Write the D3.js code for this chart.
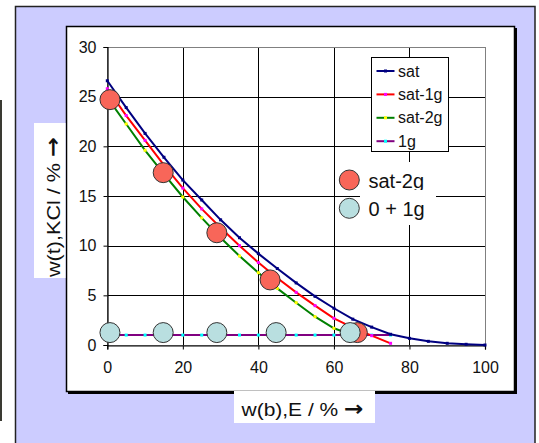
<!DOCTYPE html>
<html>
<head>
<meta charset="utf-8">
<script src="https://cdn.jsdelivr.net/npm/d3@7"></script>
<style>
  body { margin: 0; background: #ffffff; }
  svg { display: block; font-family: "Liberation Sans", Arial, sans-serif; }
</style>
</head>
<body>
<div id="chart"></div>
<script>
// ------- DATA -------
var xTicks = [0, 20, 40, 60, 80, 100];
var yTicks = [0, 5, 10, 15, 20, 25, 30];

var satX = [0, 5, 10, 15, 20, 25, 30, 35, 40, 45, 50, 55, 60, 65, 70, 75, 80, 85, 90, 95, 100];
var satY = [26.6, 23.9, 21.3, 18.9, 16.6, 14.6, 12.6, 10.8, 9.2, 7.7, 6.25, 4.9, 3.7, 2.6, 1.8, 1.08, 0.67, 0.37, 0.17, 0.07, 0];

var sat1gX = [0, 5, 10, 15, 20, 25, 30, 35, 40, 45, 50, 55, 60, 65, 70, 75];
var sat1gY = [25.8, 23.1, 20.6, 18.1, 15.8, 13.7, 11.8, 10.0, 8.3, 6.75, 5.3, 3.96, 2.69, 1.75, 0.94, 0.17];

var sat2gX = [0, 5, 10, 15, 20, 25, 30, 35, 40, 45, 50, 55, 60, 65];
var sat2gY = [24.9, 22.25, 19.6, 17.2, 14.9, 12.8, 10.8, 8.96, 7.28, 5.7, 4.26, 2.85, 1.68, 1.0];

var oneGX = [0, 5, 10, 15, 20, 25, 30, 35, 40, 45, 50, 55, 60, 65, 70, 75];
var oneGY = [1, 1, 1, 1, 1, 1, 1, 1, 1, 1, 1, 1, 1, 1, 1, 1];

var expSatX = [0.7, 14.8, 29.0, 43.1, 66.2];
var expSatY = [24.7, 17.35, 11.3, 6.55, 1.25];
var exp1gX = [0.7, 14.8, 29.0, 44.7, 64.3];
var exp1gY = [1.25, 1.25, 1.25, 1.25, 1.25];

var series = [
  { name: "sat", xs: satX, ys: satY, color: "#000080", mark: "#000080" },
  { name: "sat-1g", xs: sat1gX, ys: sat1gY, color: "#ff0000", mark: "#ff00ff" },
  { name: "sat-2g", xs: sat2gX, ys: sat2gY, color: "#008000", mark: "#ffff00" },
  { name: "1g", xs: oneGX, ys: oneGY, color: "#800080", mark: "#00ffff" }
];

var width = 539, height = 443;

var svg = d3.select("#chart").append("svg")
  .attr("width", width)
  .attr("height", height);

// ------- BACKGROUND BOXES -------
svg.append("rect").attr("x", 0).attr("y", 100).attr("width", 2).attr("height", 321).attr("fill", "#3a3a33");

svg.append("rect")
  .attr("x", 15.5).attr("y", 6.5).attr("width", 519.5).attr("height", 445)
  .attr("fill", "#ccccff").attr("stroke", "#222").attr("stroke-width", 1.5);

svg.append("rect")
  .attr("x", 68).attr("y", 28).attr("width", 449).attr("height", 366).attr("fill", "#000");
svg.append("rect")
  .attr("x", 66.5).attr("y", 26.5).attr("width", 448).attr("height", 365)
  .attr("fill", "#fff").attr("stroke", "#000").attr("stroke-width", 1.5);

// ------- SCALES -------
var x = d3.scaleLinear().domain([0, 100]).range([107.3, 485]);
var y = d3.scaleLinear().domain([0, 30]).range([345, 47]);

// ------- GRID -------
var grid = svg.append("g").attr("class", "grid");
grid.selectAll("line.gx").data(xTicks.slice(1, -1)).enter().append("line")
  .attr("x1", function (d) { return Math.round(x(d)) + 0.5; })
  .attr("x2", function (d) { return Math.round(x(d)) + 0.5; })
  .attr("y1", y(30)).attr("y2", y(0))
  .attr("stroke", "#000").attr("stroke-width", 1);
grid.selectAll("line.gy").data(yTicks.slice(1, -1)).enter().append("line")
  .attr("y1", function (d) { return Math.round(y(d)) + 0.5; })
  .attr("y2", function (d) { return Math.round(y(d)) + 0.5; })
  .attr("x1", x(0)).attr("x2", x(100))
  .attr("stroke", "#000").attr("stroke-width", 1);

// plot frame
svg.append("rect")
  .attr("x", Math.round(x(0)) + 0.5).attr("y", Math.round(y(30)) + 0.5)
  .attr("width", Math.round(x(100)) - Math.round(x(0)))
  .attr("height", Math.round(y(0)) - Math.round(y(30)))
  .attr("fill", "none").attr("stroke", "#808080");

// ------- AXES -------
var xAxis = svg.append("g")
  .attr("transform", "translate(0," + (Math.round(y(0)) + 0.5) + ")")
  .call(d3.axisBottom(x).tickValues(xTicks).tickSize(4).tickPadding(12));
var yAxis = svg.append("g")
  .attr("transform", "translate(" + (Math.round(x(0)) + 0.5) + ",0)")
  .call(d3.axisLeft(y).tickValues(yTicks).tickSize(4).tickPadding(7));

[xAxis, yAxis].forEach(function (a) {
  a.select(".domain").attr("stroke", "#000").attr("stroke-width", 1.2);
  a.selectAll(".tick line").attr("stroke", "#000");
  a.selectAll(".tick text").attr("fill", "#111").style("font-size", "16px")
    .style("font-family", "'Liberation Sans', Arial, sans-serif");
});

// ------- LINES -------
var line = d3.line()
  .x(function (d) { return x(d[0]); })
  .y(function (d) { return y(d[1]); });

var lines = svg.append("g").attr("class", "lines");
series.slice().reverse().forEach(function (s) {
  var pts = s.xs.map(function (v, i) { return [v, s.ys[i]]; });
  lines.append("path")
    .datum(pts)
    .attr("d", line)
    .attr("fill", "none")
    .attr("stroke", s.color)
    .attr("stroke-width", 2);
  lines.selectAll(null).data(pts).enter().append("rect")
    .attr("x", function (d) { return x(d[0]) - 1.5; })
    .attr("y", function (d) { return y(d[1]) - 1.5; })
    .attr("width", 3).attr("height", 3)
    .attr("fill", s.mark);
});

// ------- EXPERIMENT POINTS -------
var dots = svg.append("g").attr("class", "dots");
dots.selectAll("circle.sat").data(expSatX).enter().append("circle")
  .attr("cx", function (d) { return x(d); })
  .attr("cy", function (d, i) { return y(expSatY[i]); })
  .attr("r", 10)
  .attr("fill", "#f86659").attr("stroke", "#333").attr("stroke-width", 1);
dots.selectAll("circle.g1").data(exp1gX).enter().append("circle")
  .attr("cx", function (d) { return x(d); })
  .attr("cy", function (d, i) { return y(exp1gY[i]); })
  .attr("r", 10)
  .attr("fill", "#b9dfe0").attr("stroke", "#333").attr("stroke-width", 1);

// ------- LEGEND (lines) -------
var legend = svg.append("g").attr("transform", "translate(371.5,57.5)");
legend.append("rect").attr("width", 77).attr("height", 94)
  .attr("fill", "#fff").attr("stroke", "#000");
series.forEach(function (s, i) {
  var row = legend.append("g").attr("transform", "translate(0," + (13.5 + i * 23.4) + ")");
  row.append("line").attr("x1", 5).attr("x2", 23).attr("stroke", s.color).attr("stroke-width", 2);
  row.append("rect").attr("x", 12.5).attr("y", -1.5).attr("width", 3).attr("height", 3).attr("fill", s.mark);
  row.append("text").attr("x", 26.5).attr("y", 5.5).text(s.name)
    .style("font-size", "16px").attr("fill", "#111");
});

// ------- LEGEND (points) -------
var legend2 = svg.append("g");
legend2.append("rect").attr("x", 360).attr("y", 162).attr("width", 76).attr("height", 63).attr("fill", "#fff");
legend2.append("clipPath").attr("id", "clipTop")
  .append("rect").attr("x", 355).attr("y", 160).attr("width", 90).attr("height", 30);
legend2.append("circle").attr("cx", 349.3).attr("cy", 180).attr("r", 10)
  .attr("fill", "#f86659").attr("stroke", "#333");
legend2.append("circle").attr("cx", 349.3).attr("cy", 208.3).attr("r", 10)
  .attr("fill", "#b9dfe0").attr("stroke", "#333");
legend2.append("text").attr("x", 368.5).attr("y", 187.5).text("sat-2g")
  .attr("clip-path", "url(#clipTop)")
  .style("font-size", "20px").attr("fill", "#111");
legend2.append("text").attr("x", 368.5).attr("y", 215.5).text("0 + 1g")
  .style("font-size", "20px").attr("fill", "#111");

// ------- AXIS TITLES -------
function title(sel, label, len) {
  sel.attr("textLength", len).attr("lengthAdjust", "spacingAndGlyphs");
  sel.append("tspan").text(label + " ");
  sel.append("tspan").style("font-family", "'DejaVu Sans', sans-serif")
    .style("font-size", "21px").style("font-weight", "bold").text("\u2192");
}

svg.append("rect").attr("x", 34).attr("y", 123).attr("width", 31.5).attr("height", 155).attr("fill", "#fff");
svg.append("text")
  .attr("transform", "translate(60,207) rotate(-90)")
  .attr("text-anchor", "middle")
  .style("font-size", "19px").attr("fill", "#111")
  .call(title, "w(t),KCl / %", 140);

svg.append("rect").attr("x", 234).attr("y", 391).attr("width", 141).attr("height", 32).attr("fill", "#fff");
svg.append("text")
  .attr("x", 302.5).attr("y", 416)
  .attr("text-anchor", "middle")
  .style("font-size", "19px").attr("fill", "#111")
  .call(title, "w(b),E / %", 122);
</script>
</body>
</html>
